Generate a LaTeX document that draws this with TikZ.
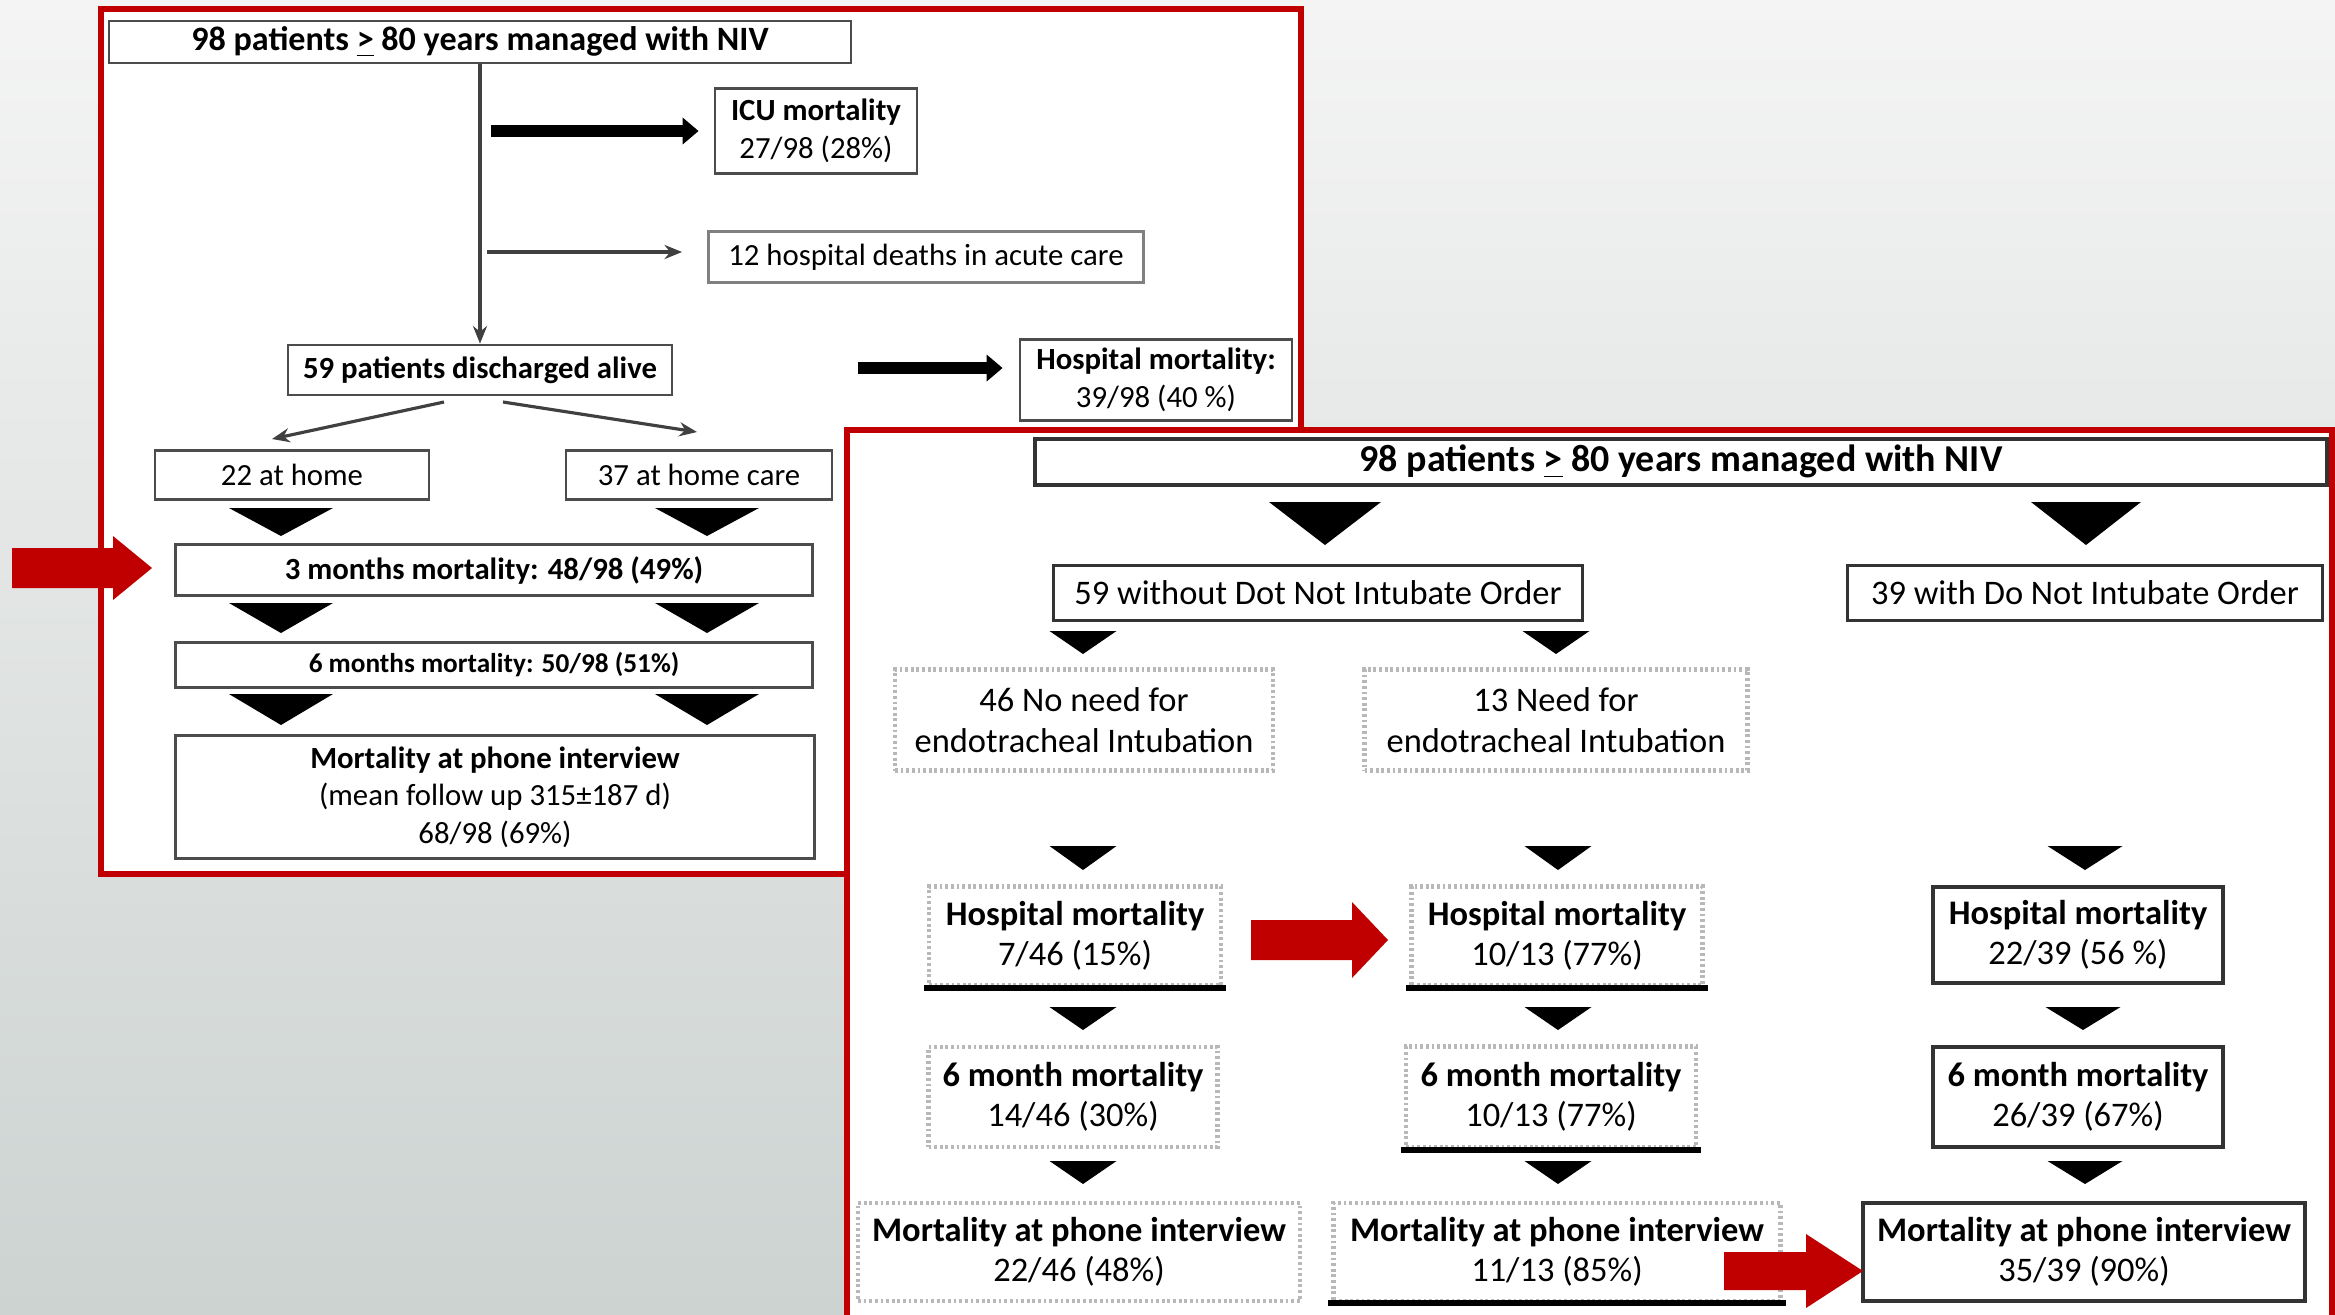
\documentclass[tikz,border=0pt]{standalone}
\usepackage{fontspec}
\setmainfont{Carlito}
\usetikzlibrary{arrows.meta,calc}

\definecolor{redc}{RGB}{192,0,0}
\definecolor{bgtop}{RGB}{244,244,244}
\definecolor{bgbot}{RGB}{204,211,209}

\newcommand\lf{\fontsize{8.75}{10.7}\selectfont}
\newcommand\rf{\fontsize{9.8}{11.5}\selectfont}
% downward black triangle: centre x, top y, width, height
\newcommand\dtri[4]{\fill[black] ({#1-#3/2},#2) -- ({#1+#3/2},#2) -- (#1,{#2+#4}) -- cycle;}
% red block arrow: tail x, tip x, head x, centre y, half shaft, half head
\newcommand\redarr[6]{\fill[redc] (#1,{#4-#5}) -- (#3,{#4-#5}) -- (#3,{#4-#6}) -- (#2,#4)
  -- (#3,{#4+#6}) -- (#3,{#4+#5}) -- (#1,{#4+#5}) -- cycle;}

\begin{document}
\begin{tikzpicture}[x=0.01cm, y=-0.01cm,
    lbox/.style={draw=black!70, line width=0.8pt, fill=white, inner sep=0pt, align=center, font=\lf},
    rbox/.style={draw=black!80, line width=1pt, fill=white, inner sep=0pt, align=center, font=\rf},
    dbox/.style={draw=black!28, line width=1.2pt, dash pattern=on 0.8pt off 0.8pt, fill=white, inner sep=0pt, align=center, font=\rf},
    sz/.style 2 args={minimum width=#1*0.01cm, minimum height=#2*0.01cm},
    frame/.style={draw=redc, line width=0.06cm, fill=white},
    thinarr/.style={-{Stealth[length=5pt, width=4pt]}, draw=black!75, line width=0.9pt},
    fatarr/.style={-{Triangle[length=0.16cm, width=0.26cm]}, line width=0.12cm},
    botline/.style={line width=0.06cm, black}
]
\useasboundingbox (0,0) rectangle (2335,1314);
\shade[top color=bgtop, bottom color=bgbot] (0,0) rectangle (2335,1314);

% left panel
\draw[frame] (101,9) rectangle (1301,874);
\node[lbox, sz={742}{42}, font=\fontsize{9.7}{11}\selectfont] (top1) at (480,42) {\textbf{98 patients \underline{>} 80 years managed with NIV}};
\node[lbox, sz={202}{85}] (icu) at (816,131) {\textbf{ICU mortality}\\27/98 (28\%)};
\node[lbox, sz={435}{51}, draw=black!50] (hd12) at (926,257) {12 hospital deaths in acute care};
\node[lbox, sz={384}{50}] (dis) at (480,370) {\textbf{59 patients discharged alive}};
\node[lbox, sz={272}{81}] (hosp) at (1156,380) {\textbf{Hospital mortality:}\\39/98 (40 \%)};
\node[lbox, sz={274}{49}] (home) at (292,475) {22 at home};
\node[lbox, sz={266}{49}] (care) at (699,475) {37 at home care};
\node[lbox, sz={637}{51}] (m3) at (494,570) {\textbf{3 months mortality: 48/98 (49\%)}};
\node[lbox, sz={637}{45}, font=\fontsize{7.75}{9}\selectfont] (m6) at (494,665) {\textbf{6 months mortality: 50/98 (51\%)}};
\node[lbox, sz={639}{123}] (phone) at (495,797) {\textbf{Mortality at phone interview}\\(mean follow up 315±187 d)\\68/98 (69\%)};

\coordinate (a1) at (491,131);
\coordinate (a2) at (487,252);
\coordinate (a3) at (858,368);
\coordinate (d1) at (444,402);
\coordinate (d2) at (272,439);
\coordinate (d3) at (503,402);
\coordinate (d4) at (697,432);

\draw[thinarr] (top1.south) -- (dis.north);
\draw[fatarr, shorten >=0.15cm] (a1) -- (icu.west);
\draw[thinarr, shorten >=0.25cm] (a2) -- (a2 -| hd12.west);
\draw[fatarr, shorten >=0.16cm] (a3) -- (a3 -| hosp.west);
\draw[thinarr] (d1) -- (d2);
\draw[thinarr] (d3) -- (d4);

\dtri{281}{508}{104}{28} \dtri{707}{508}{104}{28}
\dtri{281}{603}{104}{30} \dtri{707}{603}{104}{30}
\dtri{281}{694}{104}{31} \dtri{707}{694}{104}{31}

\redarr{12}{152}{113}{568}{20}{32}

% right panel
\draw[frame] (847,430) rectangle (2332,1340);
\node[rbox, sz={1292}{46}, font=\fontsize{10.8}{12}\selectfont] (top2) at (1681,462) {\textbf{98 patients \underline{>} 80 years managed with NIV}};
\node[rbox, sz={529}{55}] (no59) at (1318,593) {59 without Dot Not Intubate Order};
\node[rbox, sz={475}{55}] (dni39) at (2085,593) {39 with Do Not Intubate Order};
\node[dbox, sz={378}{101}] (noint) at (1084,720) {46 No need for\\endotracheal Intubation};
\node[dbox, sz={383}{101}] (int13) at (1556,720) {13 Need for\\endotracheal Intubation};

\node[dbox, sz={292}{99}] (hm1) at (1075,936) {\textbf{Hospital mortality}\\7/46 (15\%)};
\node[dbox, sz={291}{99}] (hm2) at (1557,936) {\textbf{Hospital mortality}\\10/13 (77\%)};
\node[rbox, sz={290}{96}] (hm3) at (2078,935) {\textbf{Hospital mortality}\\22/39 (56 \%)};

\node[dbox, sz={289}{100}] (sm1) at (1073,1097) {\textbf{6 month mortality}\\14/46 (30\%)};
\node[dbox, sz={290}{101}] (sm2) at (1551,1097) {\textbf{6 month mortality}\\10/13 (77\%)};
\node[rbox, sz={290}{100}] (sm3) at (2078,1097) {\textbf{6 month mortality}\\26/39 (67\%)};

\node[dbox, sz={442}{98}] (ph1) at (1079,1252) {\textbf{Mortality at phone interview}\\22/46 (48\%)};
\node[dbox, sz={447}{98}] (ph2) at (1557,1252) {\textbf{Mortality at phone interview}\\11/13 (85\%)};
\node[rbox, sz={442}{98}] (ph3) at (2084,1252) {\textbf{Mortality at phone interview}\\35/39 (90\%)};

\draw[botline] ([xshift=-0.03cm]hm1.south west) -- ([xshift=0.03cm]hm1.south east);
\draw[botline] ([xshift=-0.03cm]hm2.south west) -- ([xshift=0.03cm]hm2.south east);
\draw[botline] ([xshift=-0.03cm]sm2.south west) -- ([xshift=0.03cm]sm2.south east);
\draw[botline] ([xshift=-0.03cm]ph2.south west) -- ([xshift=0.03cm]ph2.south east);

\dtri{1325}{502}{112}{43} \dtri{2086}{502}{110}{43}
\dtri{1083}{631}{67}{23} \dtri{1556}{631}{67}{23}
\dtri{1083}{846}{67}{24} \dtri{1558}{846}{67}{24} \dtri{2085}{846}{75}{24}
\dtri{1083}{1007}{67}{23} \dtri{1558}{1007}{67}{23} \dtri{2083}{1007}{75}{23}
\dtri{1083}{1161}{67}{23} \dtri{1558}{1161}{67}{23} \dtri{2085}{1161}{75}{23}

\redarr{1251}{1388}{1352}{940}{20}{38}
\redarr{1724}{1863}{1806}{1271}{19}{37}
\end{tikzpicture}
\end{document}
